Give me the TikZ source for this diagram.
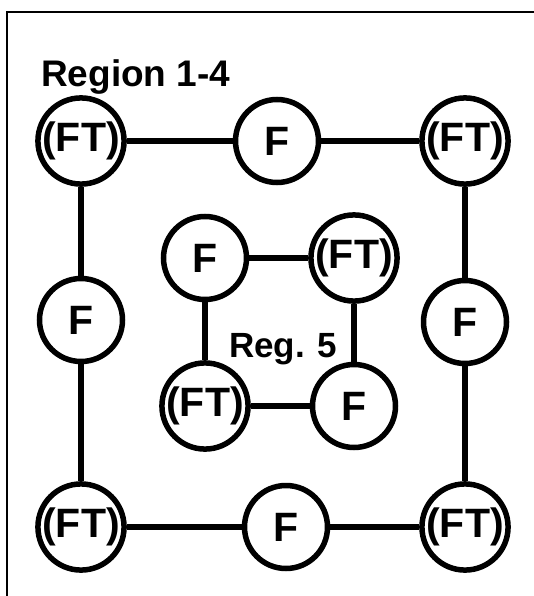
\documentclass[tikz,border=0pt]{standalone}
\usepackage{fontspec}
\setmainfont{Liberation Sans}
\begin{document}
\begin{tikzpicture}[x=1pt,y=-1pt,
  site/.style={circle,draw,line width=5.5pt,minimum size=83pt,inner sep=0pt,
    font=\fontsize{41}{41}\selectfont\bfseries},
  link/.style={line width=5.5pt},
  title/.style={anchor=base west,inner sep=0pt,font=\fontsize{37}{37}\selectfont\bfseries}]
  \useasboundingbox (0,0) rectangle (534,596);
  \draw[line width=1.5pt] (7,596) -- (7,12) -- (534,12);
  % outer ring
  \node[title] (r14) at (41,87) {Region 1-4};
  \node[site] (tl) at (81,141) {(FT)};
  \node[site] (tm) at (277,141) {F};
  \node[site] (tr) at (465,141) {(FT)};
  \node[site] (ml) at (81,320) {F};
  \node[site] (mr) at (465,322) {F};
  \node[site] (bl) at (81,527) {(FT)};
  \node[site] (bm) at (286,527) {F};
  \node[site] (br) at (465,527) {(FT)};
  \draw[link] (tl) -- (tm) -- (tr) -- (mr) -- (br) -- (bm) -- (bl) -- (ml) -- (tl);
  % inner ring
  \node[title,font=\fontsize{35}{35}\selectfont\bfseries] (r5) at (229,357) {Reg. 5};
  \node[site] (itl) at (205,258) {F};
  \node[site] (itr) at (354,258) {(FT)};
  \node[site] (ibl) at (205,406) {(FT)};
  \node[site] (ibr) at (354,406) {F};
  \draw[link] (itl) -- (itr) -- (ibr) -- (ibl) -- (itl);
\end{tikzpicture}
\end{document}
